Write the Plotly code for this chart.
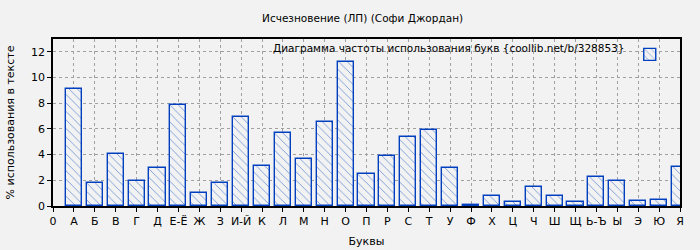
import plotly.graph_objects as go

categories = ["0", "А", "Б", "В", "Г", "Д", "Е-Ё", "Ж", "З", "И-Й", "К", "Л", "М", "Н", "О",
              "П", "Р", "С", "Т", "У", "Ф", "Х", "Ц", "Ч", "Ш", "Щ", "Ь-Ъ", "Ы", "Э", "Ю", "Я"]
bar_letters = categories[1:]
values = [9.08, 1.77, 4.02, 1.92, 2.93, 7.84, 0.99, 1.77, 6.90, 3.09, 5.66, 3.63, 6.51, 11.18,
          2.47, 3.87, 5.35, 5.89, 2.93, 0.10, 0.78, 0.31, 1.48, 0.78, 0.31, 2.23, 1.95, 0.39, 0.47, 3.03]
y_ticks = [0, 2, 4, 6, 8, 10, 12]

title = "Исчезновение (ЛП) (Софи Джордан)"
series_name = "Диаграмма частоты использования букв {coollib.net/b/328853}"
x_title = "Буквы"
y_title = "% использования в тексте"

blue = "#0040c0"
bg = "#f2f2f2"
positions = list(range(1, len(categories)))

fig = go.Figure()
fig.add_trace(go.Bar(
    x=positions, y=values, width=0.77, name=" ",
    hovertext=bar_letters,
    marker=dict(color=bg, line=dict(color=blue, width=1.4),
                pattern=dict(shape="\\", fgcolor=blue, bgcolor=bg, size=6, solidity=0.15)),
    showlegend=True,
))

fig.update_layout(
    width=700, height=250,
    margin=dict(l=53, r=20, t=39, b=44, autoexpand=False),
    paper_bgcolor=bg, plot_bgcolor=bg,
    font=dict(family="DejaVu Sans", size=11, color="#000"),
    title=dict(text=title, x=0.518, xanchor="center", y=0.925, yanchor="middle",
               font=dict(size=10.5)),
    showlegend=True,
    legend=dict(x=0.998, y=0.995, xanchor="right", yanchor="top", bgcolor="rgba(0,0,0,0)",
                borderwidth=0, itemwidth=30, font=dict(size=11)),
    annotations=[dict(text=series_name, x=0.915, y=0.995, xref="paper", yref="paper",
                      xanchor="right", yanchor="top", showarrow=False, font=dict(size=10.5))],
    bargap=0,
)
fig.update_xaxes(
    range=[0, len(categories) - 1], tickmode="array", tickvals=list(range(len(categories))),
    ticktext=categories, ticks="outside", ticklen=4, tickcolor="#000",
    showline=True, linecolor="#000", linewidth=1.5, mirror=True,
    showgrid=True, gridcolor="#a0a0a0", griddash="dot", gridwidth=1,
    zeroline=False, automargin=False, tickfont=dict(size=11),
    title=dict(text=x_title, standoff=10, font=dict(size=11)),
)
fig.update_yaxes(
    range=[0, 13], tickmode="array", tickvals=y_ticks, ticks="outside", ticklen=4,
    tickcolor="#000", showline=True, linecolor="#000", linewidth=1.5, mirror=True,
    showgrid=True, gridcolor="#a0a0a0", griddash="dot", gridwidth=1,
    zeroline=False, automargin=False, tickfont=dict(size=11),
    title=dict(text=y_title, standoff=14, font=dict(size=11)),
)

fig.write_html("out.html")
